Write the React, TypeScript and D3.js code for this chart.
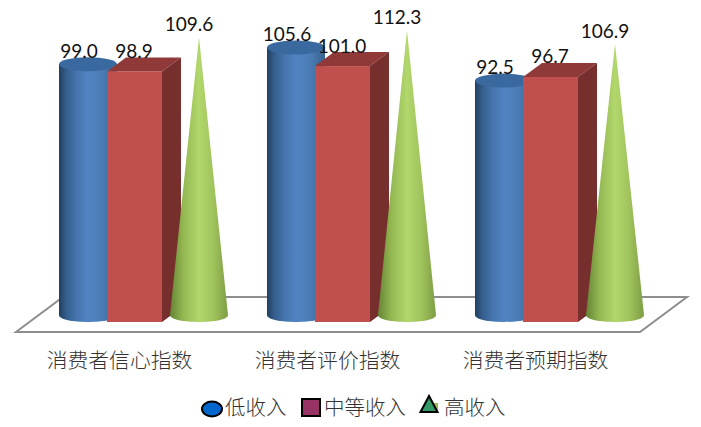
import React from "react";
import * as d3 from "d3";

const categories = ["消费者信心指数", "消费者评价指数", "消费者预期指数"];
const lowIncome = [99.0, 105.6, 92.5];
const midIncome = [98.9, 101.0, 96.7];
const highIncome = [109.6, 112.3, 106.9];
const seriesNames = ["低收入", "中等收入", "高收入"];

const W = 701, H = 427;
const x = d3.scalePoint<string>().domain(categories).range([59, 475]);
const y = d3.scaleLinear().domain([0, 100]).range([315, 61.6]);
const floor = d3.line()([[16, 332], [640, 332], [687, 297], [63, 297]]) + "Z";
const RX = 29, RY = 7;
const latin = "Lato, 'Liberation Sans', sans-serif";
const cjk = "'Noto Sans CJK SC', sans-serif";
const fmt = d3.format(".1f");

function cylinder(cx: number, top: number, base: number) {
  const p = d3.path();
  p.moveTo(cx - RX, top);
  p.lineTo(cx - RX, base);
  p.bezierCurveTo(cx - RX, base + RY * 1.33, cx + RX, base + RY * 1.33, cx + RX, base);
  p.lineTo(cx + RX, top);
  p.closePath();
  return p.toString();
}
function cone(cx: number, top: number, base: number) {
  const p = d3.path();
  p.moveTo(cx, top);
  p.lineTo(cx - RX, base);
  p.bezierCurveTo(cx - RX, base + RY * 1.33, cx + RX, base + RY * 1.33, cx + RX, base);
  p.closePath();
  return p.toString();
}

export default function App() {
  const base = y(0);
  return (
    <svg width={W} height={H} style={{ position: "absolute", left: 0, top: 0, background: "#fff" }}>
      <defs>
        <linearGradient id="cyl" x1="0" x2="1" y1="0" y2="0">
          <stop offset="0" stopColor="#213f60" />
          <stop offset="0.12" stopColor="#335d8b" />
          <stop offset="0.3" stopColor="#4675ad" />
          <stop offset="0.5" stopColor="#5184c2" />
          <stop offset="0.75" stopColor="#4c7cb6" />
          <stop offset="1" stopColor="#36628f" />
        </linearGradient>
        <linearGradient id="con" x1="0" x2="1" y1="0" y2="0">
          <stop offset="0" stopColor="#668336" />
          <stop offset="0.22" stopColor="#93b651" />
          <stop offset="0.5" stopColor="#b2d76c" />
          <stop offset="0.75" stopColor="#a0c35c" />
          <stop offset="1" stopColor="#7c9d44" />
        </linearGradient>
      </defs>
      <path d={floor} fill="#fff" stroke="#8e8e8e" strokeWidth={2} />
      {categories.map((c, i) => {
        const x0 = x(c)!;
        const cx1 = x0 + RX;
        const bx = x0 + 48, bw = 55, dx = 19, dy = 14;
        const by = y(midIncome[i]) + 7;
        const bb = base + 7;
        const cx3 = x0 + 140;
        return (
          <g key={c}>
            <path d={cylinder(cx1, y(lowIncome[i]), base)} fill="url(#cyl)" />
            <ellipse cx={cx1} cy={y(lowIncome[i])} rx={RX} ry={RY} fill="#39699f" />
            <path d={d3.line()([[bx, by], [bx + dx, by - dy], [bx + bw + dx, by - dy], [bx + bw, by]]) + "Z"} fill="#8f3a38" />
            <path d={d3.line()([[bx + bw, by], [bx + bw + dx, by - dy], [bx + bw + dx, bb - dy], [bx + bw, bb]]) + "Z"} fill="#772f2d" />
            <rect x={bx} y={by} width={bw} height={bb - by} fill="#c0504d" />
            <path d={cone(cx3, y(highIncome[i]), base)} fill="url(#con)" />
          </g>
        );
      })}
      {categories.map((c, i) => {
        const x0 = x(c)!;
        const vals = [lowIncome[i], midIncome[i], highIncome[i]];
        return (
          <g key={c} fontFamily={latin} fontSize={19} fill="#111" textAnchor="middle">
            {vals.map((v, j) => (
              <text key={j} x={x0 + 20 + 55 * j} y={y(v) - 6.5}>{fmt(v)}</text>
            ))}
            <text x={x0 + 60.5} y={367.5} fontFamily={cjk} fontWeight={300} fontSize={20.8} fill="#333">{c}</text>
          </g>
        );
      })}
      <g fontFamily={cjk} fontWeight={300} fontSize={20.5} fill="#333">
        <ellipse cx={212} cy={409} rx={10} ry={7.5} fill="#0066cc" stroke="#000" strokeWidth={2} />
        <text x={225} y={415}>{seriesNames[0]}</text>
        <rect x={302} y={399} width={18} height={17} fill="#993366" stroke="#000" strokeWidth={2} />
        <text x={324} y={415}>{seriesNames[1]}</text>
        <rect x={430} y={403} width={8} height={10} fill="#9bbb59" />
        <path d={d3.line()([[429, 396], [420.5, 412], [437.5, 412]]) + "Z"} fill="#339966" stroke="#000" strokeWidth={2} />
        <text x={444} y={415}>{seriesNames[2]}</text>
      </g>
    </svg>
  );
}
